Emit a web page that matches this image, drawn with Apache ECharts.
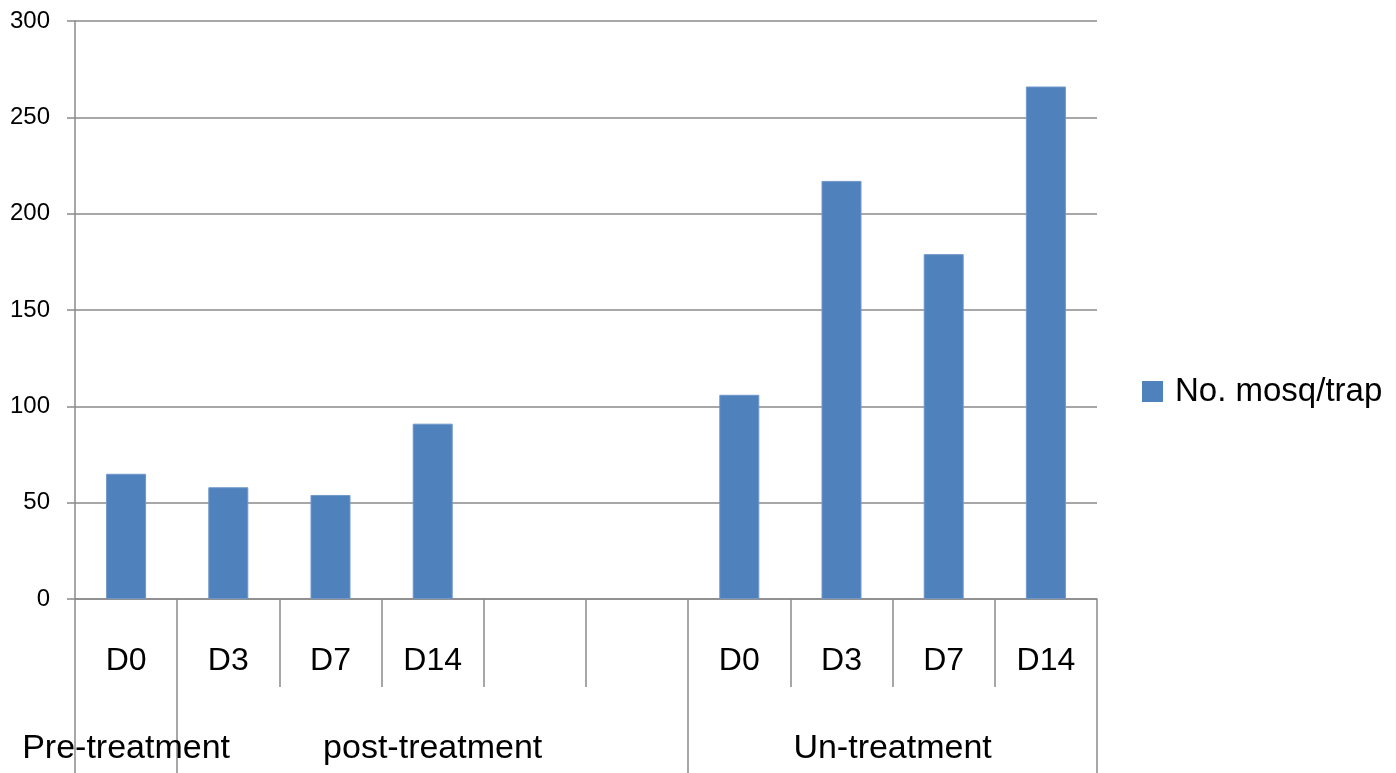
<!DOCTYPE html>
<html>
<head>
<meta charset="utf-8">
<script src="https://cdn.jsdelivr.net/npm/echarts@6/dist/echarts.min.js"></script>
<style>
html,body{margin:0;padding:0;background:#fff;}
#chart{width:1396px;height:773px;}
</style>
</head>
<body>
<div id="chart"></div>
<script>
const categories = ['D0', 'D3', 'D7', 'D14', '', '', 'D0', 'D3', 'D7', 'D14'];
const mosqPerTrap = [65, 58, 54, 91, null, null, 106, 217, 179, 266];
const seriesName = 'No. mosq/trap';
const groupNames = ['Pre-treatment', 'post-treatment', 'Un-treatment'];
const groupSpans = [1, 5, 4];
const yMin = 0, yMax = 300, yStep = 50;

const groupBounds = [0];
groupSpans.forEach(s => groupBounds.push(groupBounds[groupBounds.length - 1] + s));
const groupCenters = groupSpans.map((s, i) => groupBounds[i] + s / 2);

const FONT = 'Liberation Sans';
const GREY = '#8a8a8a';

const chart = echarts.init(document.getElementById('chart'));
chart.setOption({
  animation: false,
  backgroundColor: '#ffffff',
  textStyle: { fontFamily: FONT },
  grid: { left: 75, right: 299, top: 21, bottom: 174, containLabel: false, outerBoundsMode: 'none' },
  legend: {
    data: [seriesName],
    orient: 'vertical',
    left: 1142,
    top: 375,
    padding: 0,
    itemWidth: 21,
    itemHeight: 21,
    icon: 'rect',
    itemStyle: { borderWidth: 0 },
    textStyle: { fontFamily: FONT, fontSize: 33, color: '#000', lineHeight: 33, padding: [0, 0, 0, 7] }
  },
  xAxis: [
    {
      type: 'category',
      data: categories,
      position: 'bottom',
      axisLine: { show: true, lineStyle: { color: GREY, width: 1.5 } },
      axisTick: { show: true, alignWithLabel: false, interval: 0, length: 88, lineStyle: { color: GREY, width: 1.5 } },
      axisLabel: { interval: 0, margin: 46, fontSize: 32, color: '#000', fontFamily: FONT, lineHeight: 32 },
      splitLine: { show: false }
    },
    {
      type: 'value',
      position: 'bottom',
      min: groupBounds[0],
      max: groupBounds[groupBounds.length - 1],
      axisLine: { show: false },
      splitLine: { show: false },
      axisTick: { show: true, customValues: groupBounds, length: 174, lineStyle: { color: GREY, width: 1.5 } },
      axisLabel: {
        show: true,
        customValues: groupCenters,
        margin: 133,
        fontSize: 34,
        lineHeight: 34,
        color: '#000',
        fontFamily: FONT,
        formatter: function (v) {
          let best = 0;
          groupCenters.forEach((c, i) => { if (Math.abs(c - v) < Math.abs(groupCenters[best] - v)) best = i; });
          return groupNames[best];
        }
      }
    }
  ],
  yAxis: {
    type: 'value',
    min: yMin,
    max: yMax,
    interval: yStep,
    axisLine: { show: true, lineStyle: { color: GREY, width: 1.5 } },
    axisTick: { show: true, inside: false, length: 8, lineStyle: { color: GREY, width: 1.5 } },
    axisLabel: { margin: 25, fontSize: 24, color: '#000', fontFamily: FONT },
    splitLine: { show: true, lineStyle: { color: GREY, width: 1.5 } }
  },
  series: [
    {
      name: seriesName,
      type: 'bar',
      xAxisIndex: 0,
      data: mosqPerTrap,
      barWidth: 40,
      itemStyle: { color: '#4F81BD', borderColor: '#6f97c9', borderWidth: 1 }
    }
  ]
});
</script>
</body>
</html>
